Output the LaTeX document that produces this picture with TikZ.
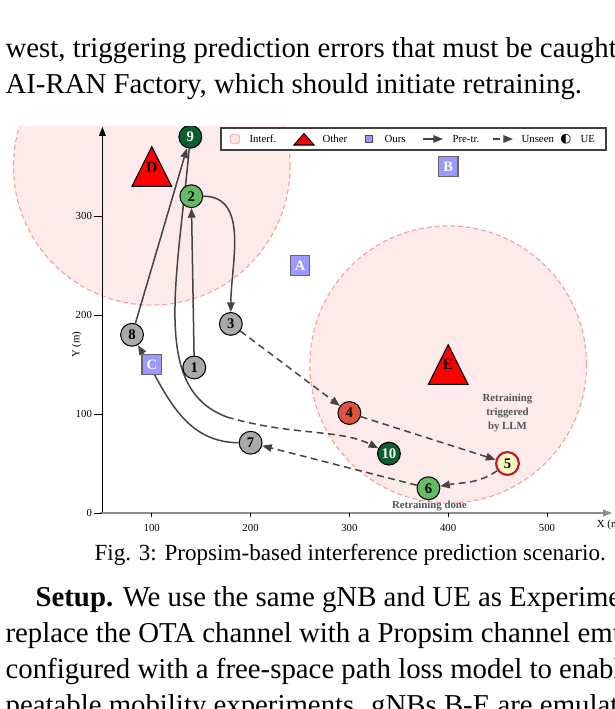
\documentclass[tikz,border=0pt]{standalone}
\usepackage{fontspec}
\setmainfont{Liberation Serif}
\newfontfamily\symfont{DejaVu Sans}
\usepackage{xcolor}
\usepackage{tikz}
\usetikzlibrary{arrows.meta, positioning, calc}
\definecolor{trajgray}{HTML}{444444}
\definecolor{uegray}{HTML}{AAAAAA}
\definecolor{uegreen}{HTML}{66BB66}
\definecolor{uedark}{HTML}{0B5E2E}
\definecolor{uered}{HTML}{E0533A}
\definecolor{ueyellow}{HTML}{FFFFC2}
\definecolor{uecrimson}{HTML}{C8102E}
\definecolor{oursblue}{HTML}{9999FF}
\definecolor{interfill}{HTML}{FDEAEA}
\definecolor{interline}{HTML}{FF9A9A}
\definecolor{labgray}{HTML}{555555}
\pgfdeclarelayer{bg}
\pgfdeclarelayer{mid}
\pgfsetlayers{bg,mid,main}

\begin{document}
\begin{tikzpicture}[x=0.3333pt, y=-0.3333pt,
  body/.style={font=\fontsize{9.6}{12}\selectfont, anchor=base west, inner sep=0pt},
  tinytext/.style={font=\fontsize{3.6}{4.6}\selectfont, inner sep=0pt},
  ue/.style={circle, draw=black, line width=0.35pt, minimum size=7.6pt, inner sep=0pt,
    font=\fontsize{4.9}{5}\selectfont\bfseries},
  ours/.style={draw=black!60, line width=0.4pt, fill=oursblue, minimum size=6.5pt, inner sep=0pt,
    text=white, font=\fontsize{4.8}{5}\selectfont\bfseries},
  other/.style={fill=red, draw=black, line width=0.35pt},
  interf/.style={fill=interfill, draw=interline, dash pattern=on 1.6pt off 1pt, line width=0.35pt},
  pretr/.style={draw=trajgray, line width=0.5pt, -{Triangle[length=3.2pt,width=2.5pt]}},
  unseen/.style={pretr, dash pattern=on 2.3pt off 1.5pt},
  note/.style={font=\fontsize{3.6}{4.6}\selectfont\bfseries, text=labgray, align=center, inner sep=0pt}]
\useasboundingbox (0,0) rectangle (615,709);
\clip (0,0) rectangle (615,709);
\coordinate (clipA) at (0,126);
\coordinate (clipB) at (615,532);

% running text around the figure
\node[body] (line1) at (5,57) {west, triggering prediction errors that must be caught};
\node[body] (line2) at (5,93) {AI-RAN Factory, which should initiate retraining.};
\node[body, font=\fontsize{7.7}{10}\selectfont] (caption) at (94,560) {Fig. 3: Propsim-based interference prediction scenario.};
\node[body] (line3) at (35,606) {\textbf{Setup.} We use the same gNB and UE as Experiment};
\node[body] (line4) at (5,642) {replace the OTA channel with a Propsim channel emulator};
\node[body] (line5) at (5,678) {configured with a free-space path loss model to enable re-};
\node[body] (line6) at (5,714) {peatable mobility experiments. gNBs B-E are emulated};

\begin{scope}
\clip (clipA) rectangle (clipB);
\begin{scope}[shift={(53,513)}, x=0.3293pt, y=0.33pt]
% interference zones
\begin{pgfonlayer}{bg}
\begin{scope}
\clip (clipA) rectangle (clipB);
\filldraw[interf] (100,350) circle [radius=140];
\filldraw[interf] (400,150) circle [radius=140];
\end{scope}
\end{pgfonlayer}

% axes
\draw[black, line width=0.4pt, -{Triangle[length=3pt,width=2.2pt]}] (50,0) -- (50,390);
\draw[black!45, line width=0.6pt, -{Triangle[length=3pt,width=2.2pt]}] (48,0) -- (566,0);
\foreach \yv in {0,100,200,300}
  \draw[black, line width=0.3pt] (50,\yv) -- (42,\yv) node[tinytext, anchor=east, xshift=-0.7pt] {\yv};
\foreach \xv in {100,200,300,400,500}
  \draw[black, line width=0.3pt] (\xv,0) -- (\xv,-4) node[tinytext, anchor=north, yshift=-2.4pt] {\xv};
\node[tinytext, rotate=90] (ylab) at (24,170) {Y (m)};
\node[tinytext, anchor=west] (xlab) at (550,-12) {X (m)};

% other gNBs
\filldraw[other] (100,370) -- (80,330) -- (120,330) -- cycle;
\node[font=\fontsize{5.2}{5}\selectfont\bfseries, inner sep=0pt] (gD) at (100,349) {D};
\filldraw[other] (400,170) -- (380,130) -- (420,130) -- cycle;
\node[font=\fontsize{5.2}{5}\selectfont\bfseries, inner sep=0pt] (gE) at (400,150) {E};

% our gNBs
\node[ours] (gA) at (250,250) {A};
\node[ours] (gB) at (400,350) {B};
\node[ours] (gC) at (100,150) {C};

% UE positions
\node[ue, fill=uegray] (n1) at (143,147) {1};
\node[ue, fill=uegreen] (n2) at (140,320) {2};
\node[ue, fill=uegray] (n3) at (180,191) {3};
\node[ue, fill=uered] (n4) at (300,101) {4};
\node[ue, fill=ueyellow, draw=uecrimson, line width=0.7pt] (n5) at (460,50) {5};
\node[ue, fill=uegreen] (n6) at (380,25) {6};
\node[ue, fill=uegray] (n7) at (200,71) {7};
\node[ue, fill=uegray] (n8) at (80,180) {8};
\node[ue, fill=uedark, text=white] (n9) at (139,380) {9};
\node[ue, fill=uedark, text=white] (n10) at (340,60) {10};
\coordinate (bend) at (176,97);

\node[note] (trig) at (460,101) {Retraining\\triggered\\by LLM};
\node[note] (done) at (381,7) {Retraining done};

% trajectory
\begin{pgfonlayer}{mid}
\begin{scope}
\clip (clipA) rectangle (clipB);
\draw[pretr] (n1) -- (n2);
\draw[pretr] (n2) to[out=0, in=90] (n3);
\draw[unseen] (n3) -- (n4);
\draw[unseen] (n4) -- (n5);
\draw[unseen] (n5) to[out=215, in=10] (n6);
\draw[unseen] (n6) -- (n7);
\draw[pretr] (n7) to[out=180, in=-60] (n8);
\draw[pretr] (n8) -- (n9);
\draw[pretr, -] (n9) .. controls (125,230) and (100,125) .. (bend);
\draw[unseen] (bend) .. controls (240,78) and (290,85) .. (n10);
\end{scope}
\end{pgfonlayer}
\end{scope}
\end{scope}

% legend
\draw[black!75, fill=white, line width=0.35pt] (221,128) rectangle (606,150);
\node[draw=interline!70, fill=interfill, rounded corners=0.8pt, minimum size=3pt, inner sep=0pt] (kInterf) at (235,139) {};
\node[tinytext, anchor=west] (tInterf) at (249,139) {Interf.};
\filldraw[other] (294,145) -- (314,145) -- (304,133.5) -- cycle;
\node[tinytext, anchor=west] (tOther) at (322,139) {Other};
\node[draw=black!70, fill=oursblue, line width=0.35pt, minimum size=2.6pt, inner sep=0pt] (kOurs) at (369,139) {};
\node[tinytext, anchor=west] (tOurs) at (384,139) {Ours};
\coordinate (kPreA) at (423,139);
\coordinate (kPreB) at (443,139);
\draw[pretr] (kPreA) -- (kPreB);
\node[tinytext, anchor=west] (tPre) at (452,139) {Pre-tr.};
\coordinate (kUnA) at (493,139);
\coordinate (kUnB) at (513,139);
\draw[unseen] (kUnA) -- (kUnB);
\node[tinytext, anchor=west] (tUn) at (521,139) {Unseen};
\node[font=\symfont\fontsize{4.2}{4.5}\selectfont, inner sep=0pt] (kUE) at (566,139) {◐};
\node[tinytext, anchor=west] (tUE) at (580,139) {UE};
\end{tikzpicture}
\end{document}
